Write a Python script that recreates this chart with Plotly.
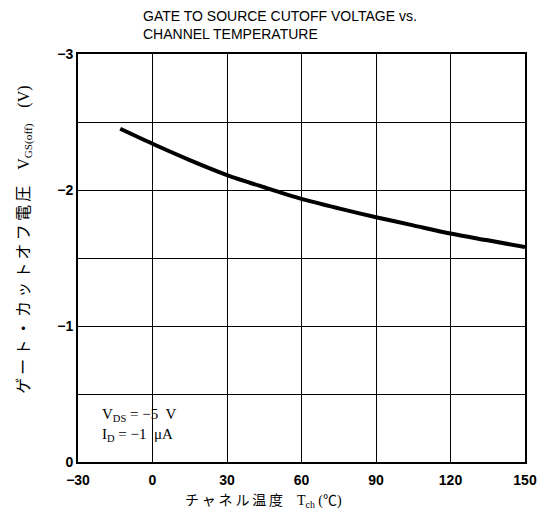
import plotly.graph_objects as go

# Data
temperature_c = [-13, 0, 15, 30, 45, 60, 75, 90, 105, 120, 135, 150]
vgs_off_v = [-2.45, -2.34, -2.22, -2.11, -2.02, -1.935, -1.865, -1.80, -1.74, -1.68, -1.63, -1.58]

x_tick_vals = [-30, 0, 30, 60, 90, 120, 150]
x_tick_text = ["\u221230", "0", "30", "60", "90", "120", "150"]
y_tick_vals = [0, -0.5, -1, -1.5, -2, -2.5, -3]
y_tick_text = ["0", "", "\u22121", "", "\u22122", "", "\u22123"]

title_lines = ["GATE TO SOURCE CUTOFF VOLTAGE vs.", "CHANNEL TEMPERATURE"]
y_label_jp = "ゲート・カットオフ電圧"
y_label_sym = "V<sub>GS(off)</sub>"
y_label_unit = "(V)"
x_label_jp = "チャネル温度"
x_label_sym = "T<sub>ch</sub> (℃)"
cond_lines = ["V<sub>DS</sub> = \u22125  V", "I<sub>D</sub> = \u22121  \u03bcA"]

SANS = "Liberation Sans, Arial, sans-serif"
SERIF = "Liberation Serif, Noto Sans CJK JP, serif"

THIN = "\u2009"
IDEO = "\u3000"

fig = go.Figure()
fig.add_trace(go.Scatter(
    x=temperature_c, y=vgs_off_v, mode="lines",
    line=dict(color="black", width=4, shape="spline", smoothing=0.8),
    showlegend=False, hoverinfo="skip",
))

fig.update_layout(
    width=549, height=517,
    margin=dict(l=78, r=17, t=54, b=55),
    paper_bgcolor="white", plot_bgcolor="white",
    xaxis=dict(
        range=[-30, 150], tickmode="array", tickvals=x_tick_vals, ticktext=x_tick_text,
        showgrid=True, gridcolor="black", gridwidth=1,
        showline=True, linecolor="black", linewidth=2, mirror=True,
        ticks="", zeroline=False, ticklabelstandoff=4,
        tickfont=dict(family=SANS, size=14, color="black", weight="bold"),
    ),
    yaxis=dict(
        range=[0, -3], tickmode="array", tickvals=y_tick_vals, ticktext=y_tick_text,
        showgrid=True, gridcolor="black", gridwidth=1,
        showline=True, linecolor="black", linewidth=2, mirror=True,
        ticks="", zeroline=False,
        tickfont=dict(family=SANS, size=14, color="black", weight="bold"),
    ),
)


def px_x(px):
    return (px - 78) / 454.0


def px_y(py):
    return (462 - py) / 408.0


fig.add_annotation(
    x=px_x(142), y=px_y(6), xref="paper", yref="paper", showarrow=False,
    text="<br>".join(title_lines), align="left", xanchor="left", yanchor="top",
    font=dict(family=SANS, size=14, color="black"),
)

y_label = THIN.join(y_label_jp) + IDEO + y_label_sym + IDEO + y_label_unit
fig.add_annotation(
    x=px_x(24), y=px_y(240), xref="paper", yref="paper", showarrow=False,
    text=y_label, textangle=-90, xanchor="center", yanchor="middle",
    font=dict(family=SERIF, size=16, color="black"),
)

x_label = THIN.join(x_label_jp) + IDEO + x_label_sym
fig.add_annotation(
    x=px_x(266), y=px_y(501), xref="paper", yref="paper", showarrow=False,
    text=x_label, xanchor="center", yanchor="middle",
    font=dict(family=SERIF, size=14, color="black"),
)
fig.add_annotation(
    x=px_x(100), y=px_y(425), xref="paper", yref="paper", showarrow=False,
    text="<br>".join(cond_lines), align="left", xanchor="left", yanchor="middle",
    font=dict(family=SERIF, size=15, color="black"),
)

fig.write_html("out.html")
